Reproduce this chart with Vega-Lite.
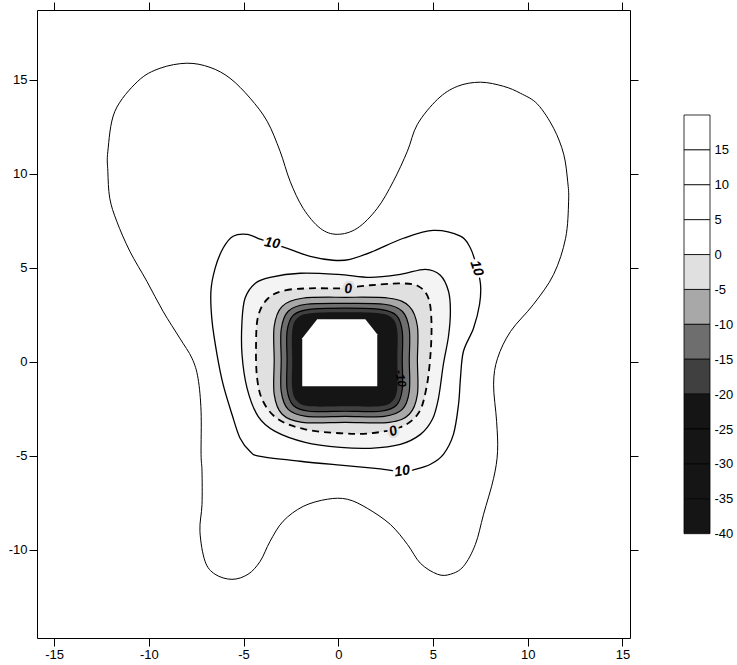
{
"$schema":"https://vega.github.io/schema/vega-lite/v6.json",
"background":"white",
"padding":{"left":8,"top":1,"right":5,"bottom":5},
"bounds":"flush",
"spacing":54,
"config":{"view":{"stroke":null},"font":"Liberation Sans","axis":{"domainColor":"black","tickColor":"black","labelColor":"black","tickSize":8,"labelFont":"Liberation Sans","labelFontSize":13,"grid":false,"labelPadding":2,"domainWidth":1,"tickWidth":1}},
"datasets":{
"outer":[{"x":-7.99,"y":15.87},{"x":-6.77,"y":15.65},{"x":-5.71,"y":15.07},{"x":-4.65,"y":14.01},{"x":-3.75,"y":12.78},{"x":-3.07,"y":11.19},{"x":-2.54,"y":9.59},{"x":-1.85,"y":8.15},{"x":-0.95,"y":7.09},{"x":-0.05,"y":6.77},{"x":1.0,"y":7.09},{"x":2.06,"y":8.15},{"x":2.91,"y":9.59},{"x":3.65,"y":11.19},{"x":4.18,"y":12.62},{"x":5.24,"y":13.95},{"x":6.29,"y":14.64},{"x":7.51,"y":14.86},{"x":8.73,"y":14.64},{"x":9.62,"y":14.27},{"x":10.52,"y":13.69},{"x":11.37,"y":12.41},{"x":11.9,"y":11.03},{"x":12.11,"y":9.59},{"x":12.16,"y":8.53},{"x":12.0,"y":6.56},{"x":11.37,"y":4.64},{"x":10.31,"y":3.05},{"x":9.1,"y":1.61},{"x":8.41,"y":0.18},{"x":8.2,"y":-1.2},{"x":8.36,"y":-3.18},{"x":8.41,"y":-4.78},{"x":8.2,"y":-6.21},{"x":7.67,"y":-8.12},{"x":7.24,"y":-9.72},{"x":6.61,"y":-10.89},{"x":5.92,"y":-11.31},{"x":5.24,"y":-11.31},{"x":4.34,"y":-10.73},{"x":3.65,"y":-9.72},{"x":2.75,"y":-8.66},{"x":1.53,"y":-7.8},{"x":0.48,"y":-7.32},{"x":-0.58,"y":-7.32},{"x":-1.85,"y":-7.7},{"x":-2.91,"y":-8.49},{"x":-3.6,"y":-9.56},{"x":-4.12,"y":-10.62},{"x":-4.76,"y":-11.31},{"x":-5.61,"y":-11.58},{"x":-6.5,"y":-11.31},{"x":-7.03,"y":-10.62},{"x":-7.3,"y":-9.03},{"x":-7.19,"y":-7.59},{"x":-7.19,"y":-5.84},{"x":-7.24,"y":-4.93},{"x":-7.24,"y":-2.64},{"x":-7.4,"y":-0.89},{"x":-7.72,"y":0.18},{"x":-8.36,"y":1.24},{"x":-9.25,"y":2.68},{"x":-10.1,"y":4.27},{"x":-11.0,"y":5.87},{"x":-11.69,"y":7.46},{"x":-12.06,"y":8.69},{"x":-12.16,"y":10.12},{"x":-12.16,"y":11.19},{"x":-11.79,"y":13.31},{"x":-10.58,"y":14.91},{"x":-9.41,"y":15.6}],
"c10":[{"x":-5.55,"y":6.67},{"x":-4.81,"y":6.77},{"x":-4.12,"y":6.51},{"x":-3.49,"y":6.29},{"x":-2.54,"y":5.97},{"x":-1.48,"y":5.6},{"x":-0.26,"y":5.39},{"x":0.63,"y":5.44},{"x":1.85,"y":5.87},{"x":3.44,"y":6.56},{"x":5.02,"y":6.98},{"x":6.45,"y":6.67},{"x":6.98,"y":6.03},{"x":7.3,"y":5.07},{"x":7.51,"y":4.11},{"x":7.46,"y":3.05},{"x":7.14,"y":1.77},{"x":6.61,"y":0.55},{"x":6.45,"y":-0.89},{"x":6.35,"y":-2.27},{"x":6.08,"y":-3.87},{"x":5.55,"y":-4.93},{"x":4.87,"y":-5.46},{"x":4.07,"y":-5.73},{"x":3.38,"y":-5.84},{"x":1.96,"y":-5.68},{"x":0.11,"y":-5.51},{"x":-2.01,"y":-5.3},{"x":-4.12,"y":-5.04},{"x":-4.65,"y":-4.78},{"x":-5.18,"y":-4.08},{"x":-5.61,"y":-2.8},{"x":-6.08,"y":-1.2},{"x":-6.4,"y":0.39},{"x":-6.66,"y":2.15},{"x":-6.72,"y":3.74},{"x":-6.5,"y":4.96},{"x":-6.08,"y":6.03}],
"c5":[{"x":-4.39,"y":4.16},{"x":-3.6,"y":4.48},{"x":-2.01,"y":4.7},{"x":0,"y":4.64},{"x":1.69,"y":4.48},{"x":3.28,"y":4.64},{"x":4.6,"y":4.91},{"x":5.39,"y":4.59},{"x":5.82,"y":3.74},{"x":5.92,"y":2.68},{"x":5.82,"y":1.35},{"x":5.55,"y":-0.14},{"x":5.29,"y":-1.95},{"x":4.97,"y":-3.07},{"x":4.34,"y":-3.87},{"x":3.28,"y":-4.4},{"x":1.69,"y":-4.61},{"x":0.11,"y":-4.56},{"x":-1.75,"y":-4.29},{"x":-3.33,"y":-3.71},{"x":-4.23,"y":-2.91},{"x":-4.81,"y":-1.42},{"x":-5.08,"y":0.39},{"x":-5.08,"y":2.15},{"x":-4.92,"y":3.37}],
"c0":[{"x":-3.7,"y":3.37},{"x":-2.8,"y":3.79},{"x":-1.48,"y":3.9},{"x":0.11,"y":3.9},{"x":1.69,"y":4.06},{"x":3.28,"y":4.16},{"x":4.23,"y":4.01},{"x":4.76,"y":3.37},{"x":4.92,"y":2.15},{"x":4.87,"y":0.39},{"x":4.65,"y":-1.42},{"x":4.23,"y":-2.75},{"x":3.28,"y":-3.49},{"x":1.69,"y":-3.81},{"x":0.11,"y":-3.81},{"x":-1.75,"y":-3.6},{"x":-3.17,"y":-3.07},{"x":-3.97,"y":-2.11},{"x":-4.28,"y":-0.89},{"x":-4.34,"y":0.81},{"x":-4.23,"y":2.41}],
"m5":[{"x":-1.9,"y":3.37},{"x":0.37,"y":3.42},{"x":2.7,"y":3.37},{"x":3.75,"y":2.94},{"x":4.18,"y":1.88},{"x":4.18,"y":0.07},{"x":4.18,"y":-1.74},{"x":3.75,"y":-2.8},{"x":2.7,"y":-3.23},{"x":0.37,"y":-3.23},{"x":-1.9,"y":-3.23},{"x":-2.96,"y":-2.8},{"x":-3.38,"y":-1.74},{"x":-3.38,"y":0.07},{"x":-3.38,"y":1.88},{"x":-2.96,"y":2.94}],
"m10":[{"x":-1.69,"y":3.05},{"x":0.37,"y":3.1},{"x":2.43,"y":3.05},{"x":3.38,"y":2.68},{"x":3.75,"y":1.72},{"x":3.75,"y":0.07},{"x":3.75,"y":-1.58},{"x":3.38,"y":-2.54},{"x":2.43,"y":-2.91},{"x":0.37,"y":-2.91},{"x":-1.69,"y":-2.91},{"x":-2.64,"y":-2.54},{"x":-3.01,"y":-1.58},{"x":-3.01,"y":0.07},{"x":-3.01,"y":1.72},{"x":-2.64,"y":2.68}],
"m15":[{"x":-1.53,"y":2.78},{"x":0.37,"y":2.84},{"x":2.22,"y":2.78},{"x":3.07,"y":2.46},{"x":3.38,"y":1.61},{"x":3.38,"y":0.07},{"x":3.38,"y":-1.47},{"x":3.07,"y":-2.32},{"x":2.22,"y":-2.64},{"x":0.37,"y":-2.64},{"x":-1.53,"y":-2.64},{"x":-2.38,"y":-2.32},{"x":-2.7,"y":-1.47},{"x":-2.7,"y":0.07},{"x":-2.7,"y":1.61},{"x":-2.38,"y":2.46}],
"m20":[{"x":-1.48,"y":2.57},{"x":0.37,"y":2.62},{"x":2.17,"y":2.57},{"x":2.86,"y":2.3},{"x":3.12,"y":1.61},{"x":3.12,"y":0.07},{"x":3.12,"y":-1.42},{"x":2.86,"y":-2.11},{"x":2.17,"y":-2.38},{"x":0.37,"y":-2.38},{"x":-1.48,"y":-2.38},{"x":-2.17,"y":-2.11},{"x":-2.43,"y":-1.42},{"x":-2.43,"y":0.07},{"x":-2.43,"y":1.61},{"x":-2.17,"y":2.3}],
"hex":[{"x":-1.11,"y":2.25},{"x":1.43,"y":2.25},{"x":2.06,"y":1.45},{"x":2.06,"y":-1.31},{"x":-1.9,"y":-1.31},{"x":-1.9,"y":1.24}],
"labels":[{"name":"a","t":"10","x":-3.49,"y":6.29},{"name":"b","t":"10","x":7.3,"y":4.96},{"name":"c","t":"10","x":3.38,"y":-5.84},{"name":"d","t":"0","x":0.53,"y":3.85},{"name":"e","t":"0","x":2.91,"y":-3.71},{"name":"f","t":"-10","x":3.3,"y":-0.89}],
"bar":[{"lo":15,"hi":20},{"lo":10,"hi":15},{"lo":5,"hi":10},{"lo":0,"hi":5},{"lo":-5,"hi":0},{"lo":-10,"hi":-5},{"lo":-15,"hi":-10},{"lo":-20,"hi":-15},{"lo":-25,"hi":-20},{"lo":-30,"hi":-25},{"lo":-35,"hi":-30},{"lo":-40,"hi":-35}]
},
"hconcat":[
{"width":593,"height":628,
"resolve":{"axis":{"x":"independent","y":"independent"}},
"layer":[
{"data":{"name":"c5"},"mark":{"type":"line","interpolate":"cardinal-closed","filled":true,"color":"#f4f4f4"},"encoding":{"x":{"field":"x","type":"quantitative","scale":{"domain":[-15.9,15.4],"nice":false,"zero":false},"axis":{"orient":"bottom","values":[-15,-10,-5,0,5,10,15],"labelExpr":"''+datum.value","title":null}},"y":{"field":"y","type":"quantitative","scale":{"domain":[-14.7,18.7],"nice":false,"zero":false},"axis":{"orient":"left","values":[-10,-5,0,5,10,15],"labelExpr":"''+datum.value","title":null}},"order":{"value":null}}},
{"data":{"name":"c0"},"mark":{"type":"line","interpolate":"cardinal-closed","filled":true,"color":"#e0e0e0"},"encoding":{"x":{"field":"x","type":"quantitative","scale":{"domain":[-15.9,15.4],"nice":false,"zero":false},"axis":{"orient":"top","values":[-15,-10,-5,0,5,10,15],"labels":false,"title":null}},"y":{"field":"y","type":"quantitative","scale":{"domain":[-14.7,18.7],"nice":false,"zero":false},"axis":{"orient":"right","values":[-10,-5,0,5,10,15],"labels":false,"title":null}},"order":{"value":null}}},
{"data":{"name":"m5"},"mark":{"type":"line","interpolate":"cardinal-closed","filled":true,"color":"#a8a8a8"},"encoding":{"x":{"field":"x","type":"quantitative","axis":null},"y":{"field":"y","type":"quantitative","axis":null},"order":{"value":null}}},
{"data":{"name":"m10"},"mark":{"type":"line","interpolate":"cardinal-closed","filled":true,"color":"#6e6e6e"},"encoding":{"x":{"field":"x","type":"quantitative","axis":null},"y":{"field":"y","type":"quantitative","axis":null},"order":{"value":null}}},
{"data":{"name":"m15"},"mark":{"type":"line","interpolate":"cardinal-closed","filled":true,"color":"#404040"},"encoding":{"x":{"field":"x","type":"quantitative","axis":null},"y":{"field":"y","type":"quantitative","axis":null},"order":{"value":null}}},
{"data":{"name":"m20"},"mark":{"type":"line","interpolate":"cardinal-closed","filled":true,"color":"#151515"},"encoding":{"x":{"field":"x","type":"quantitative","axis":null},"y":{"field":"y","type":"quantitative","axis":null},"order":{"value":null}}},
{"data":{"name":"hex"},"mark":{"type":"line","interpolate":"linear-closed","filled":true,"color":"white"},"encoding":{"x":{"field":"x","type":"quantitative","axis":null},"y":{"field":"y","type":"quantitative","axis":null},"order":{"value":null}}},
{"data":{"name":"outer"},"mark":{"type":"line","interpolate":"cardinal-closed","color":"black","strokeWidth":1},"encoding":{"x":{"field":"x","type":"quantitative","axis":null},"y":{"field":"y","type":"quantitative","axis":null},"order":{"value":null}}},
{"data":{"name":"c10"},"mark":{"type":"line","interpolate":"cardinal-closed","color":"black","strokeWidth":1.3},"encoding":{"x":{"field":"x","type":"quantitative","axis":null},"y":{"field":"y","type":"quantitative","axis":null},"order":{"value":null}}},
{"data":{"name":"c5"},"mark":{"type":"line","interpolate":"cardinal-closed","color":"black","strokeWidth":1.3},"encoding":{"x":{"field":"x","type":"quantitative","axis":null},"y":{"field":"y","type":"quantitative","axis":null},"order":{"value":null}}},
{"data":{"name":"c0"},"mark":{"type":"line","interpolate":"cardinal-closed","color":"black","strokeWidth":1.8,"strokeDash":[7,5]},"encoding":{"x":{"field":"x","type":"quantitative","axis":null},"y":{"field":"y","type":"quantitative","axis":null},"order":{"value":null}}},
{"data":{"name":"m5"},"mark":{"type":"line","interpolate":"cardinal-closed","color":"black","strokeWidth":1.2},"encoding":{"x":{"field":"x","type":"quantitative","axis":null},"y":{"field":"y","type":"quantitative","axis":null},"order":{"value":null}}},
{"data":{"name":"m10"},"mark":{"type":"line","interpolate":"cardinal-closed","color":"black","strokeWidth":1.2},"encoding":{"x":{"field":"x","type":"quantitative","axis":null},"y":{"field":"y","type":"quantitative","axis":null},"order":{"value":null}}},
{"data":{"name":"m15"},"mark":{"type":"line","interpolate":"cardinal-closed","color":"black","strokeWidth":1.2},"encoding":{"x":{"field":"x","type":"quantitative","axis":null},"y":{"field":"y","type":"quantitative","axis":null},"order":{"value":null}}},
{"data":{"name":"labels"},"transform":[{"filter":"datum.name == 'a'"}],"mark":{"type":"text","angle":10,"fontSize":14,"fontWeight":"bold","fontStyle":"italic","color":"white","stroke":"white","strokeWidth":5},"encoding":{"x":{"field":"x","type":"quantitative","axis":null},"y":{"field":"y","type":"quantitative","axis":null},"text":{"field":"t"}}},
{"data":{"name":"labels"},"transform":[{"filter":"datum.name == 'a'"}],"mark":{"type":"text","angle":10,"fontSize":14,"fontWeight":"bold","fontStyle":"italic","color":"black"},"encoding":{"x":{"field":"x","type":"quantitative","axis":null},"y":{"field":"y","type":"quantitative","axis":null},"text":{"field":"t"}}},
{"data":{"name":"labels"},"transform":[{"filter":"datum.name == 'b'"}],"mark":{"type":"text","angle":72,"fontSize":14,"fontWeight":"bold","fontStyle":"italic","color":"white","stroke":"white","strokeWidth":5},"encoding":{"x":{"field":"x","type":"quantitative","axis":null},"y":{"field":"y","type":"quantitative","axis":null},"text":{"field":"t"}}},
{"data":{"name":"labels"},"transform":[{"filter":"datum.name == 'b'"}],"mark":{"type":"text","angle":72,"fontSize":14,"fontWeight":"bold","fontStyle":"italic","color":"black"},"encoding":{"x":{"field":"x","type":"quantitative","axis":null},"y":{"field":"y","type":"quantitative","axis":null},"text":{"field":"t"}}},
{"data":{"name":"labels"},"transform":[{"filter":"datum.name == 'c'"}],"mark":{"type":"text","angle":-8,"fontSize":14,"fontWeight":"bold","fontStyle":"italic","color":"white","stroke":"white","strokeWidth":5},"encoding":{"x":{"field":"x","type":"quantitative","axis":null},"y":{"field":"y","type":"quantitative","axis":null},"text":{"field":"t"}}},
{"data":{"name":"labels"},"transform":[{"filter":"datum.name == 'c'"}],"mark":{"type":"text","angle":-8,"fontSize":14,"fontWeight":"bold","fontStyle":"italic","color":"black"},"encoding":{"x":{"field":"x","type":"quantitative","axis":null},"y":{"field":"y","type":"quantitative","axis":null},"text":{"field":"t"}}},
{"data":{"name":"labels"},"transform":[{"filter":"datum.name == 'd'"}],"mark":{"type":"text","angle":-5,"fontSize":14,"fontWeight":"bold","fontStyle":"italic","color":"#e0e0e0","stroke":"#e0e0e0","strokeWidth":5},"encoding":{"x":{"field":"x","type":"quantitative","axis":null},"y":{"field":"y","type":"quantitative","axis":null},"text":{"field":"t"}}},
{"data":{"name":"labels"},"transform":[{"filter":"datum.name == 'd'"}],"mark":{"type":"text","angle":-5,"fontSize":14,"fontWeight":"bold","fontStyle":"italic","color":"black"},"encoding":{"x":{"field":"x","type":"quantitative","axis":null},"y":{"field":"y","type":"quantitative","axis":null},"text":{"field":"t"}}},
{"data":{"name":"labels"},"transform":[{"filter":"datum.name == 'e'"}],"mark":{"type":"text","angle":-20,"fontSize":14,"fontWeight":"bold","fontStyle":"italic","color":"#e0e0e0","stroke":"#e0e0e0","strokeWidth":5},"encoding":{"x":{"field":"x","type":"quantitative","axis":null},"y":{"field":"y","type":"quantitative","axis":null},"text":{"field":"t"}}},
{"data":{"name":"labels"},"transform":[{"filter":"datum.name == 'e'"}],"mark":{"type":"text","angle":-20,"fontSize":14,"fontWeight":"bold","fontStyle":"italic","color":"black"},"encoding":{"x":{"field":"x","type":"quantitative","axis":null},"y":{"field":"y","type":"quantitative","axis":null},"text":{"field":"t"}}},
{"data":{"name":"labels"},"transform":[{"filter":"datum.name == 'f'"}],"mark":{"type":"text","angle":80,"fontSize":12,"fontWeight":"bold","fontStyle":"italic","color":"black"},"encoding":{"x":{"field":"x","type":"quantitative","axis":null},"y":{"field":"y","type":"quantitative","axis":null},"text":{"field":"t"}}}
]},
{"width":26,"height":628,"data":{"name":"bar"},"mark":{"type":"rect","stroke":"black","strokeWidth":0.8},
"encoding":{"x":{"datum":0,"type":"quantitative","scale":{"domain":[0,1]},"axis":null},"x2":{"datum":1},
"y":{"field":"lo","type":"quantitative","scale":{"domain":[-54.95,35.05],"nice":false,"zero":false},"axis":{"orient":"right","values":[-40,-35,-30,-25,-20,-15,-10,-5,0,5,10,15],"domain":false,"ticks":false,"labelPadding":4,"labelExpr":"''+datum.value","title":null}},
"y2":{"field":"hi"},
"fill":{"field":"lo","type":"ordinal","scale":{"domain":[15,10,5,0,-5,-10,-15,-20,-25,-30,-35,-40],"range":["white","white","white","white","#e0e0e0","#a8a8a8","#6e6e6e","#404040","#151515","#151515","#151515","#151515"]},"legend":null}}}
]
}
